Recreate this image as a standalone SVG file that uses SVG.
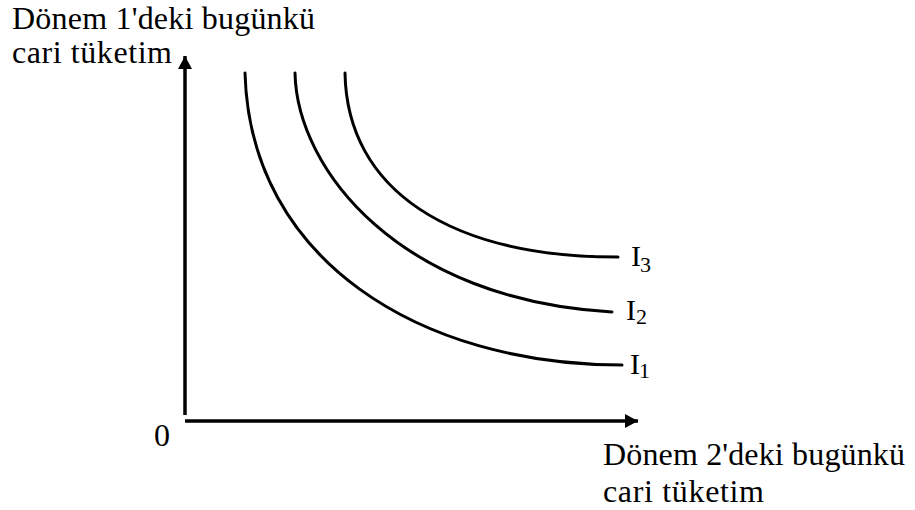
<svg xmlns="http://www.w3.org/2000/svg" width="915" height="510" viewBox="0 0 915 510">
<style>
text{font-family:"Liberation Serif","Times New Roman",serif;fill:#000}
.lbl{font-size:32px}
.i{font-size:30px}
.sub{font-size:22px}
.axis{stroke:#000;stroke-width:3.5;fill:none}
.curve{stroke:#000;stroke-width:3;fill:none;stroke-linecap:round}
</style>
<defs>
<marker id="ah" viewBox="0 0 13 14" refX="13" refY="7" markerWidth="13" markerHeight="14" markerUnits="userSpaceOnUse" orient="auto">
<path d="M0,0 L13,7 L0,14 Z" fill="#000"/>
</marker>
</defs>
<rect width="915" height="510" fill="#fff"/>
<g id="connectors">
<line class="axis" x1="185" y1="415" x2="185" y2="56" marker-end="url(#ah)"/>
<line class="axis" x1="185" y1="421" x2="638" y2="421" marker-end="url(#ah)"/>
</g>
<g id="curve-I1">
<path class="curve" d="M245,73 C250,260 420,365 622,365"/>
<text class="i" x="630" y="374">I<tspan class="sub" x="639" y="378">1</tspan></text>
</g>
<g id="curve-I2">
<path class="curve" d="M295,73 C297,170 400,300 612,312"/>
<text class="i" x="626" y="320">I<tspan class="sub" x="636" y="324">2</tspan></text>
</g>
<g id="curve-I3">
<path class="curve" d="M345,73 C347,190 450,257 618,257"/>
<text class="i" x="631" y="266">I<tspan class="sub" x="640" y="272">3</tspan></text>
</g>
<g id="y-label">
<text class="lbl" x="12" y="29" textLength="303">Dönem 1'deki bugünkü</text>
<text class="lbl" x="12" y="63" textLength="160">cari tüketim</text>
</g>
<g id="x-label">
<text class="lbl" x="603" y="465" textLength="302">Dönem 2'deki bugünkü</text>
<text class="lbl" x="603" y="502" textLength="161">cari tüketim</text>
</g>
<g id="origin">
<text class="lbl" x="154" y="446">0</text>
</g>
</svg>
